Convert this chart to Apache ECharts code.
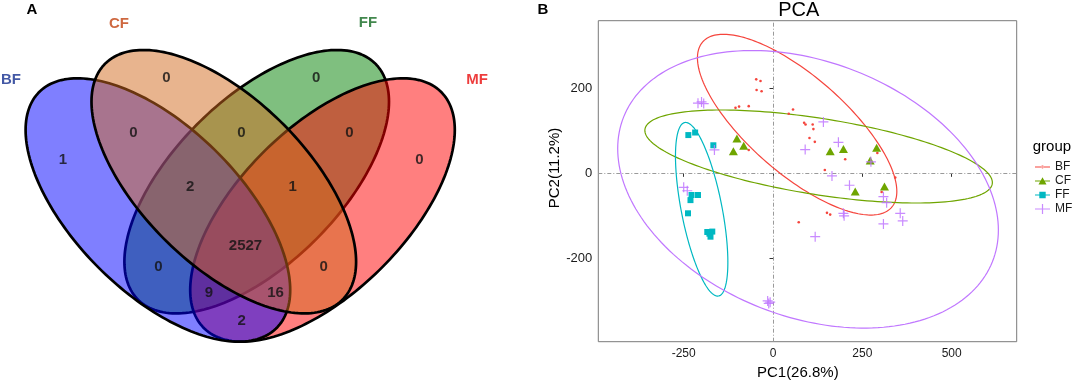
<!DOCTYPE html>
<html><head><meta charset="utf-8">
<script src="https://cdn.jsdelivr.net/npm/echarts@6/dist/echarts.min.js"></script>
<style>html,body{margin:0;padding:0;background:#fff}#c{width:1074px;height:383px}</style>
</head><body><div id="c"></div>
<script>
// ---------- Panel A: Venn diagram ----------
const vennSets = ['BF', 'CF', 'FF', 'MF'];
const vennFill = ['#0000FF', '#D2691E', '#008000', '#FF0000'];
const vennLabelColor = ['#142E8E', '#C24210', '#136A22', '#E80C0C'];
const vennCx = [157.9, 223.8, 256.7, 322.5];
const vennCy = [210, 181.7, 181.7, 210];
const vennHalfW = [132.3, 132.3, 132.3, 132.3];
const vennHalfH = [131.7, 131.7, 131.7, 131.7];
const vennK = [80, 80, -80, -80];
const vennDrawOrder = [2, 3, 0, 1]; // FF, MF, BF, CF (later fills cover earlier outlines)
const vennSetLabelX = [11, 119, 368, 477];
const vennSetLabelY = [79.5, 23.7, 23.3, 79.5];
const vennCounts = ['1', '0', '0', '0', '0', '0', '0', '2', '1', '2527', '0', '0', '9', '16', '2'];
const vennCountX = [63, 166.3, 316.1, 419.4, 133.3, 241.4, 349.5, 190.1, 292.7, 245.5, 158.4, 323.7, 209, 275.5, 241.7];
const vennCountY = [160, 78.3, 78.3, 160, 133.3, 133.3, 133.3, 186.7, 186.7, 246, 266.7, 266.7, 293.3, 293.3, 320.7];

// ---------- Panel B: PCA ----------
const groups = ['BF', 'CF', 'FF', 'MF'];
const groupColors = ['#F5453D', '#6FA500', '#00B8C2', '#C077FF'];
const bfX = [-47, -35, -46, -32, -105, -95, -68, 44, 56, -68, 87, 91, 111, 113, 102, 117, 202, 145, 292, 342, 304, 151, 160, 72];
const bfY = [221, 217, 196, 193, 154, 157, 158, 140, 150, 55, 119, 115, 115, 104, 83, 74, 33, 8, 48, -10, -44, -93, -97, -115];
const cfX = [-101, -82, -111, 160, 197, 290, 272, 230, 312];
const cfY = [82, 65, 52, 52, 57, 60, 30, -43, -31];
const ffX = [-237, -218, -167, -228, -210, -231, -238, -184, -170, -175, -178];
const ffY = [90, 96, 66, -51, -51, -63, -94, -138, -137, -149, -142];
const mfX = [-210, -200, -194, -164, 141, 183, 90, 274, 165, 214, 309, 318, 197, 199, 356, 363, 309, 118, -250, -240, -12, -8, -15];
const mfY = [165, 168, 164, 55, 121, 73, 56, 27, -6, -28, -55, -69, -94, -100, -94, -112, -119, -149, -33, -41, -306, -303, -300];
const xTicks = [-250, 0, 250, 500];
const yTicks = [-200, 0, 200];
// confidence ellipses: centre, half width, half height, y-offset of rightmost point (data units)
const ellCx = [67.5, 127.6, -199.7, 98];
const ellCy = [114.5, 39.6, -84.5, -37.6];
const ellHalfW = [279, 486.3, 73.3, 532.7];
const ellHalfH = [212.6, 109.4, 204.2, 326.4];
const ellK = [-157, -61.2, -124.7, -95.8];

const FONT = 'Liberation Sans, Arial, Helvetica, sans-serif';
function rgba(hex, a) {
  const n = parseInt(hex.slice(1), 16);
  return 'rgba(' + (n >> 16) + ',' + ((n >> 8) & 255) + ',' + (n & 255) + ',' + a + ')';
}
function ellipsePoints(api, cx, cy, W, H, k) {
  const s = Math.sqrt(Math.max(H * H - k * k, 0));
  const pts = [];
  for (let i = 0; i < 200; i++) {
    const t = i / 200 * 2 * Math.PI;
    pts.push(api.coord([cx + W * Math.cos(t), cy + k * Math.cos(t) + s * Math.sin(t)]));
  }
  return pts;
}
const CORNERS = 'M0,0L0.01,0L0,0.01Z M15,10L14.99,10L15,9.99Z ';
const LINE = 'M0,4.45h15v1.1h-15z ';
const legendIcons = [
  'path://' + CORNERS + LINE + 'M7.5,3.6a1.4,1.4 0 1,0 0.01,0z',
  'path://' + CORNERS + LINE + 'M7.5,1.3L11.5,8.4H3.5z',
  'path://' + CORNERS + LINE + 'M4.3,1.8h6.4v6.4h-6.4z',
  'path://' + CORNERS + LINE + 'M6.9,0h1.2v10h-1.2z'
];
const plusPath = 'path://M4.4,0h1.2v4.4h4.4v1.2h-4.4v4.4h-1.2v-4.4h-4.4v-1.2h4.4z';

function pairs(xs, ys) { return xs.map((x, i) => [x, ys[i]]); }

const chart = echarts.init(document.getElementById('c'), null, {renderer: 'canvas'});
const option = {
  animation: false,
  backgroundColor: '#fff',
  grid: [
    {left: 0, top: 0, width: 500, height: 383, show: false, outerBoundsMode: 'none'},
    {left: 598.3, top: 20.7, right: 57.3, bottom: 41.3, show: true, borderColor: '#7a7a7a', borderWidth: 1, backgroundColor: '#fff', outerBoundsMode: 'none'}
  ],
  xAxis: [
    {gridIndex: 0, type: 'value', min: 0, max: 500, show: false},
    {gridIndex: 1, type: 'value', min: -489, max: 682,
      axisLine: {show: false}, splitLine: {show: false},
      axisTick: {show: true, length: 3.5, lineStyle: {color: '#333'}, customValues: xTicks},
      axisLabel: {customValues: xTicks, color: '#1a1a1a', fontSize: 12, fontFamily: FONT, margin: 6}}
  ],
  yAxis: [
    {gridIndex: 0, type: 'value', min: 0, max: 383, inverse: true, show: false},
    {gridIndex: 1, type: 'value', min: -396, max: 359,
      axisLine: {show: false}, splitLine: {show: false},
      axisTick: {show: true, length: 3.5, lineStyle: {color: '#333'}, customValues: yTicks},
      axisLabel: {customValues: yTicks, color: '#1a1a1a', fontSize: 13, fontFamily: FONT, margin: 6}}
  ],
  legend: {
    left: 1030, top: 156, orient: 'vertical', itemWidth: 15, itemHeight: 10, itemGap: 2,
    selectedMode: false,
    textStyle: {fontSize: 12, color: '#1a1a1a', fontFamily: FONT},
    data: groups.map((g, i) => ({name: g, icon: legendIcons[i]}))
  },
  graphic: [
    {type: 'text', x: 32, y: 10, style: {text: 'A', font: 'bold 15px ' + FONT, fill: '#000', textAlign: 'center', textVerticalAlign: 'middle', align: 'center', verticalAlign: 'middle'}},
    {type: 'text', x: 543, y: 10, style: {text: 'B', font: 'bold 15px ' + FONT, fill: '#000', textAlign: 'center', textVerticalAlign: 'middle', align: 'center', verticalAlign: 'middle'}},
    {type: 'text', x: 798.8, y: 10, style: {text: 'PCA', font: '20px ' + FONT, fill: '#000', textAlign: 'center', textVerticalAlign: 'middle', align: 'center', verticalAlign: 'middle'}},
    {type: 'text', x: 797.8, y: 373, style: {text: 'PC1(26.8%)', font: '15px ' + FONT, fill: '#000', textAlign: 'center', textVerticalAlign: 'middle', align: 'center', verticalAlign: 'middle'}},
    {type: 'text', x: 555, y: 168, rotation: Math.PI / 2, style: {text: 'PC2(11.2%)', font: '15px ' + FONT, fill: '#000', textAlign: 'center', textVerticalAlign: 'middle', align: 'center', verticalAlign: 'middle'}},
    {type: 'text', x: 1032.7, y: 147, style: {text: 'group', font: '15px ' + FONT, fill: '#000', textAlign: 'left', textVerticalAlign: 'middle', align: 'left', verticalAlign: 'middle'}}
  ],
  series: [
    // Venn ellipses (fill + outline each, in drawing order)
    {
      type: 'custom', xAxisIndex: 0, yAxisIndex: 0, silent: true, z: 1,
      data: vennDrawOrder.map(i => [vennCx[i], vennCy[i], vennHalfW[i], vennHalfH[i], vennK[i], i]),
      renderItem: function (params, api) {
        const i = api.value(5);
        return {
          type: 'polygon',
          shape: {points: ellipsePoints(api, api.value(0), api.value(1), api.value(2), api.value(3), api.value(4))},
          style: {fill: rgba(vennFill[i], 0.5), stroke: '#000', lineWidth: 2.7, lineJoin: 'round'}
        };
      }
    },
    // Venn counts
    {
      type: 'scatter', xAxisIndex: 0, yAxisIndex: 0, silent: true, z: 5,
      symbolSize: 1, itemStyle: {color: 'transparent'},
      data: vennCounts.map((t, i) => [vennCountX[i], vennCountY[i], t]),
      label: {show: true, position: 'inside', formatter: p => p.value[2], color: '#111', fontSize: 15, fontWeight: 'bold', fontFamily: FONT}
    },
    // Venn set names
    {
      type: 'scatter', xAxisIndex: 0, yAxisIndex: 0, silent: true, z: 5,
      symbolSize: 1, itemStyle: {color: 'transparent'},
      data: vennSets.map((s, i) => ({value: [vennSetLabelX[i], vennSetLabelY[i], s], label: {color: vennLabelColor[i]}})),
      label: {show: true, position: 'inside', formatter: p => p.value[2], fontSize: 15, fontWeight: 'bold', fontFamily: FONT}
    },
    // PCA ellipses
    {
      type: 'custom', xAxisIndex: 1, yAxisIndex: 1, silent: true, z: 3,
      data: groups.map((g, i) => [ellCx[i], ellCy[i], ellHalfW[i], ellHalfH[i], ellK[i], i]),
      renderItem: function (params, api) {
        const i = api.value(5);
        return {
          type: 'polygon',
          shape: {points: ellipsePoints(api, api.value(0), api.value(1), api.value(2), api.value(3), api.value(4))},
          style: {fill: 'none', stroke: groupColors[i], lineWidth: 1.2}
        };
      }
    },
    {
      name: 'BF', type: 'scatter', xAxisIndex: 1, yAxisIndex: 1, z: 4, silent: true,
      symbol: 'circle', symbolSize: 2.6, itemStyle: {color: groupColors[0], opacity: 1},
      data: pairs(bfX, bfY),
      markLine: {
        silent: true, symbol: ['none', 'none'], label: {show: false}, z: 2,
        lineStyle: {color: '#9a9a9a', width: 1, type: [4, 2, 1, 2]},
        emphasis: {disabled: true},
        data: [{xAxis: 0}, {yAxis: 0}]
      }
    },
    {
      name: 'CF', type: 'scatter', xAxisIndex: 1, yAxisIndex: 1, z: 4, silent: true,
      symbol: 'triangle', symbolSize: [9, 8], itemStyle: {color: groupColors[1], opacity: 1},
      data: pairs(cfX, cfY)
    },
    {
      name: 'FF', type: 'scatter', xAxisIndex: 1, yAxisIndex: 1, z: 4, silent: true,
      symbol: 'rect', symbolSize: 6, itemStyle: {color: groupColors[2], opacity: 1},
      data: pairs(ffX, ffY)
    },
    {
      name: 'MF', type: 'scatter', xAxisIndex: 1, yAxisIndex: 1, z: 4, silent: true,
      symbol: plusPath, symbolSize: 10, itemStyle: {color: groupColors[3], opacity: 0.85},
      data: pairs(mfX, mfY)
    }
  ]
};
chart.setOption(option);
</script></body></html>
